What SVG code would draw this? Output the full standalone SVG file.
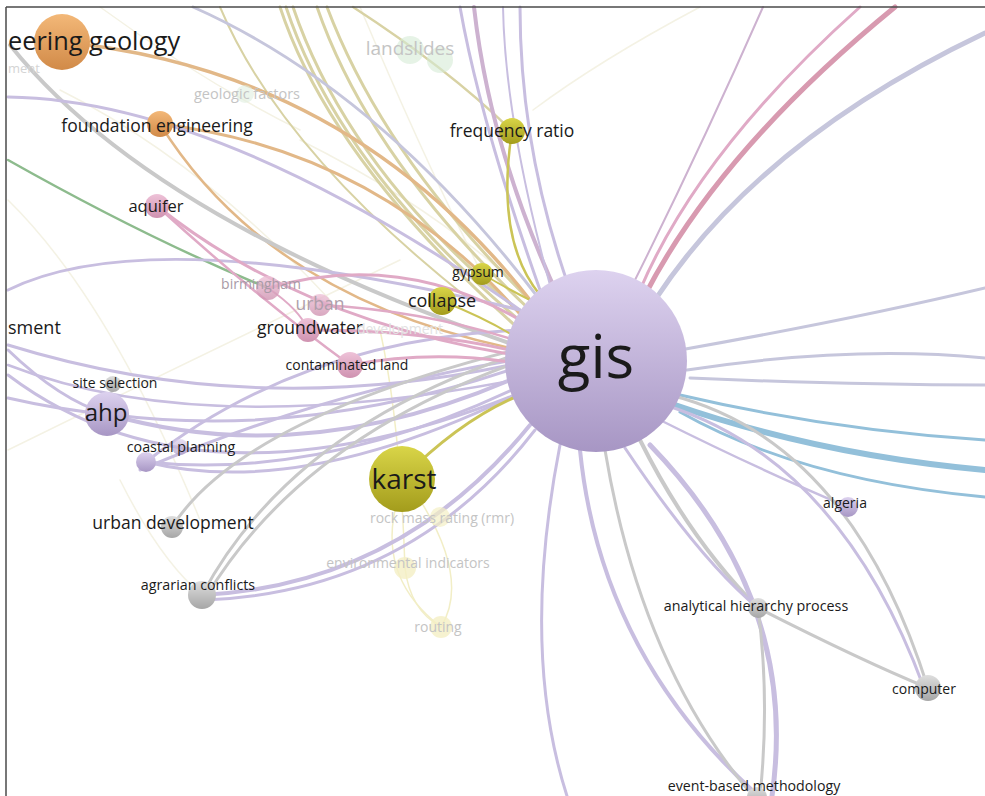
<svg xmlns="http://www.w3.org/2000/svg" width="985" height="796" viewBox="0 0 985 796">
<defs>
<linearGradient id="gPurple" x1="0" y1="0" x2="0" y2="1"><stop offset="0" stop-color="#ddd2ef"/><stop offset="1" stop-color="#a796c4"/></linearGradient>
<linearGradient id="gOlive" x1="0" y1="0" x2="0" y2="1"><stop offset="0" stop-color="#d9d548"/><stop offset="1" stop-color="#a39c1c"/></linearGradient>
<linearGradient id="gOrange" x1="0" y1="0" x2="0" y2="1"><stop offset="0" stop-color="#f3b878"/><stop offset="1" stop-color="#d18a48"/></linearGradient>
<linearGradient id="gPink" x1="0" y1="0" x2="0" y2="1"><stop offset="0" stop-color="#eec2d8"/><stop offset="1" stop-color="#cf92b0"/></linearGradient>
<linearGradient id="gGray" x1="0" y1="0" x2="0" y2="1"><stop offset="0" stop-color="#dedede"/><stop offset="1" stop-color="#a6a6a6"/></linearGradient>
<style>
.e{fill:none;stroke-linecap:round}
.lav{stroke:#c8bee0}
.stl{stroke:#c6c6dc}
.mauve{stroke:#cdb2d0}
.pinkE{stroke:#e0aac6}
.rose{stroke:#d89ab0}
.blue{stroke:#93c0da}
.grayE{stroke:#c9c9c9}
.tan{stroke:#d8d2a4}
.olv{stroke:#cbc456}
.org{stroke:#e2b888}
.grn{stroke:#8dbb8d}
.faint{stroke:#f4f2e4}
.fy{stroke:#f2eec6}
text{font-family:"Open Sans","Noto Sans","DejaVu Sans",sans-serif;fill:#1a1a1a}
.fl{fill:#c4c4c4}
</style>
</defs>
<rect width="985" height="796" fill="#ffffff"/>

<g id="connectors">
<!-- faint background -->
<path class="e faint" stroke-width="1.5" d="M700,7 Q600,60 533,110"/>
<path class="e faint" stroke-width="1.5" d="M8,200 Q110,300 200,520"/>
<path class="e faint" stroke-width="1.5" d="M300,140 Q420,200 500,270"/>
<path class="e faint" stroke-width="1.5" d="M60,90 Q200,160 330,300"/>
<path class="e faint" stroke-width="1.5" d="M120,480 Q160,560 202,595"/>
<path class="e faint" stroke-width="1.5" d="M100,7 Q200,80 300,130"/>
<path class="e faint" stroke-width="1.5" d="M8,450 Q150,380 400,260"/>
<path class="e faint" stroke-width="1.5" d="M360,7 Q420,150 480,270"/>
<path class="e fy" stroke-width="1.5" d="M395,510 Q380,580 441,627"/>
<path class="e fy" stroke-width="1.5" d="M420,500 Q470,580 441,627"/>
<path class="e fy" stroke-width="1.5" d="M405,568 Q410,610 441,627"/>
<path class="e fy" stroke-width="1.5" d="M380,330 Q400,420 405,568"/>
<!-- tan from top -->
<path class="e tan" stroke-width="2" d="M220,7 Q280,150 470,300"/>
<path class="e tan" stroke-width="3" d="M280,7 Q330,160 520,330"/>
<path class="e tan" stroke-width="3" d="M286,7 Q340,170 525,325"/>
<path class="e tan" stroke-width="3" d="M293,7 Q350,175 530,320"/>
<path class="e tan" stroke-width="3" d="M317,7 Q370,160 530,310"/>
<path class="e tan" stroke-width="3" d="M327,7 Q385,160 535,305"/>
<path class="e tan" stroke-width="2.5" d="M353,7 Q450,70 512,131"/>
<!-- orange -->
<path class="e org" stroke-width="3.5" d="M62,42 Q350,70 530,300"/>
<path class="e org" stroke-width="3" d="M160,124 Q380,150 525,320"/>
<path class="e org" stroke-width="2.5" d="M160,124 Q270,300 520,350"/>
<!-- green -->
<path class="e grn" stroke-width="2.5" d="M8,160 Q150,240 268,288"/>
<!-- gray top-left -->
<path class="e grayE" stroke-width="4" d="M10,45 Q150,220 515,345"/>
<!-- lavender/steel -->
<path class="e stl" stroke-width="3" d="M193,7 Q380,90 540,300"/>
<path class="e lav" stroke-width="3" d="M8,97 Q220,100 520,310"/>
<path class="e lav" stroke-width="3" d="M8,290 Q150,220 520,310"/>
<path class="e lav" stroke-width="3" d="M8,345 Q250,420 510,365"/>
<path class="e lav" stroke-width="2.5" d="M8,365 Q200,440 515,380"/>
<path class="e lav" stroke-width="3" d="M8,350 Q60,400 107,414"/>
<path class="e lav" stroke-width="3" d="M8,398 Q60,410 107,414"/>
<path class="e lav" stroke-width="3" d="M8,375 Q200,520 515,395"/>
<path class="e lav" stroke-width="4" d="M107,414 Q300,470 510,380"/>
<path class="e lav" stroke-width="3" d="M107,414 Q300,440 510,370"/>
<path class="e lav" stroke-width="3" d="M146,462 Q300,500 515,395"/>
<path class="e lav" stroke-width="3" d="M146,462 Q320,480 512,390"/>
<path class="e lav" stroke-width="3" d="M146,462 Q300,340 520,330"/>
<path class="e lav" stroke-width="3" d="M140,470 Q330,390 515,360"/>
<path class="e lav" stroke-width="4" d="M202,595 Q400,585 530,425"/>
<path class="e lav" stroke-width="3" d="M205,600 Q410,592 535,430"/>
<path class="e grayE" stroke-width="3" d="M172,527 Q240,420 515,350"/>
<path class="e grayE" stroke-width="3" d="M202,595 Q290,430 515,355"/>
<path class="e grayE" stroke-width="3" d="M206,597 Q300,440 518,362"/>
<path class="e grayE" stroke-width="2" d="M113,384 Q110,400 107,414"/>
<!-- top purple -->
<path class="e lav" stroke-width="3" d="M460,7 Q480,120 540,290"/>
<path class="e mauve" stroke-width="4" d="M474,7 Q490,150 560,300"/>
<path class="e lav" stroke-width="2" d="M503,7 Q505,120 550,285"/>
<path class="e lav" stroke-width="3" d="M520,7 Q520,150 570,290"/>
<path class="e mauve" stroke-width="2" d="M763,7 Q700,150 630,290"/>
<path class="e pinkE" stroke-width="3" d="M860,7 Q700,150 640,290"/>
<path class="e rose" stroke-width="5" d="M895,7 Q720,150 645,295"/>
<path class="e stl" stroke-width="5" d="M985,33 Q760,140 655,300"/>
<!-- right -->
<path class="e stl" stroke-width="3" d="M680,350 Q850,320 985,288"/>
<path class="e stl" stroke-width="3" d="M687,370 Q850,345 985,358"/>
<path class="e stl" stroke-width="3" d="M690,378 Q850,385 985,385"/>
<path class="e blue" stroke-width="3" d="M680,395 Q830,430 985,440"/>
<path class="e blue" stroke-width="6" d="M675,405 Q820,455 985,470"/>
<path class="e blue" stroke-width="3" d="M680,412 Q800,480 985,497"/>
<path class="e lav" stroke-width="2.5" d="M660,420 Q760,470 848,507"/>
<path class="e grayE" stroke-width="3" d="M670,395 Q850,440 928,688"/>
<path class="e lav" stroke-width="3" d="M665,405 Q840,460 924,688"/>
<!-- bottom -->
<path class="e lav" stroke-width="3" d="M560,445 Q520,650 567,796"/>
<path class="e lav" stroke-width="4" d="M580,450 Q600,650 752,790"/>
<path class="e grayE" stroke-width="3" d="M605,450 Q640,660 748,790"/>
<path class="e grayE" stroke-width="4" d="M640,440 Q690,540 758,608"/>
<path class="e lav" stroke-width="3" d="M625,448 Q700,560 758,608"/>
<path class="e lav" stroke-width="5" d="M650,445 Q800,600 772,796"/>
<path class="e grayE" stroke-width="3" d="M758,608 Q770,700 760,796"/>
<path class="e grayE" stroke-width="3" d="M758,608 Q860,660 928,688"/>
<!-- pink -->
<path class="e pinkE" stroke-width="3" d="M157,206 Q300,320 515,355"/>
<path class="e pinkE" stroke-width="2.5" d="M157,206 Q260,300 350,365"/>
<path class="e pinkE" stroke-width="3" d="M268,288 Q400,250 520,320"/>
<path class="e pinkE" stroke-width="3" d="M308,330 Q420,330 510,350"/>
<path class="e pinkE" stroke-width="3" d="M350,365 Q430,350 510,362"/>
<path class="e pinkE" stroke-width="2.5" d="M320,305 Q420,310 515,340"/>
<path class="e pinkE" stroke-width="2" d="M268,288 Q300,310 308,330"/>
<!-- olive -->
<path class="e olv" stroke-width="3" d="M402,479 Q460,420 520,395"/>
<path class="e olv" stroke-width="2" d="M442,301 Q490,320 520,340"/>
<path class="e olv" stroke-width="2" d="M482,274 Q510,290 530,300"/>
<path class="e olv" stroke-width="2.5" d="M512,131 Q495,240 540,295"/>
</g>

<g id="node-gis"><circle cx="596" cy="361" r="91" fill="url(#gPurple)"/><text x="596" y="378" font-size="60" text-anchor="middle">gis</text></g>
<g id="node-landslides"><circle cx="410" cy="50" r="14" fill="#d6ebd6" opacity="0.6"/><circle cx="440" cy="60" r="13" fill="#d6ebd6" opacity="0.6"/><text x="410" y="55" font-size="19" text-anchor="middle" class="fl">landslides</text></g>
<g id="node-geologic-factors"><circle cx="245" cy="94" r="9" fill="#e0eee0" opacity="0.6"/><text x="247" y="99" font-size="14.5" text-anchor="middle" class="fl">geologic factors</text></g>
<g id="node-engineering-geology"><circle cx="62" cy="42" r="28" fill="url(#gOrange)"/><text x="8" y="50" font-size="25.3">eering geology</text></g>
<g id="node-ment"><text x="8" y="73" font-size="13" style="fill:#d4d4d4">ment</text></g>
<g id="node-foundation-engineering"><circle cx="160" cy="124" r="13" fill="url(#gOrange)"/><text x="157" y="132" font-size="17.5" text-anchor="middle">foundation engineering</text></g>
<g id="node-frequency-ratio"><circle cx="512" cy="131" r="13" fill="url(#gOlive)"/><text x="512" y="137" font-size="17.5" text-anchor="middle">frequency ratio</text></g>
<g id="node-aquifer"><circle cx="157" cy="206" r="12" fill="url(#gPink)"/><text x="156" y="212" font-size="16.5" text-anchor="middle">aquifer</text></g>
<g id="node-gypsum"><circle cx="482" cy="274" r="11" fill="url(#gOlive)"/><text x="478" y="277" font-size="14" text-anchor="middle">gypsum</text></g>
<g id="node-collapse"><circle cx="442" cy="301" r="14" fill="url(#gOlive)"/><text x="442" y="307" font-size="18" text-anchor="middle">collapse</text></g>
<g id="node-birmingham"><circle cx="268" cy="288" r="12" fill="url(#gPink)" opacity="0.8"/><text x="261" y="289" font-size="14" text-anchor="middle" style="fill:#a89aa6">birmingham</text></g>
<g id="node-urban"><circle cx="320" cy="305" r="11" fill="url(#gPink)" opacity="0.8"/><text x="320" y="310" font-size="17.5" text-anchor="middle" style="fill:#ae9eaa">urban</text></g>
<g id="node-groundwater"><circle cx="308" cy="330" r="12" fill="url(#gPink)"/><text x="310" y="334" font-size="17.5" text-anchor="middle">groundwater</text></g>
<g id="node-development"><text x="400" y="334" font-size="14" text-anchor="middle" style="fill:#e2e2e2">development</text></g>
<g id="node-contaminated-land"><circle cx="350" cy="365" r="13" fill="url(#gPink)"/><text x="347" y="370" font-size="14" text-anchor="middle">contaminated land</text></g>
<g id="node-sment"><text x="8" y="334" font-size="18">sment</text></g>
<g id="node-site-selection"><circle cx="113" cy="384" r="8" fill="url(#gGray)"/><text x="115" y="388" font-size="14" text-anchor="middle">site selection</text></g>
<g id="node-ahp"><circle cx="107" cy="414" r="22" fill="url(#gPurple)"/><text x="106" y="421" font-size="24" text-anchor="middle">ahp</text></g>
<g id="node-coastal-planning"><circle cx="180" cy="447" r="8" fill="url(#gPurple)" opacity="0.7"/><circle cx="146" cy="462" r="10" fill="url(#gPurple)"/><text x="181" y="452" font-size="14.3" text-anchor="middle">coastal planning</text></g>
<g id="node-karst"><circle cx="402" cy="479" r="33" fill="url(#gOlive)"/><text x="404" y="489" font-size="28" text-anchor="middle">karst</text></g>
<g id="node-urban-development"><circle cx="172" cy="527" r="11" fill="url(#gGray)"/><text x="173" y="529" font-size="17.5" text-anchor="middle">urban development</text></g>
<g id="node-rock-mass-rating"><circle cx="440" cy="517" r="10" fill="#f4efc4" opacity="0.7"/><text x="442" y="523" font-size="14" text-anchor="middle" class="fl">rock mass rating (rmr)</text></g>
<g id="node-environmental-indicators"><circle cx="405" cy="568" r="11" fill="#f4efc4" opacity="0.8"/><text x="408" y="568" font-size="14" text-anchor="middle" class="fl">environmental indicators</text></g>
<g id="node-agrarian-conflicts"><circle cx="202" cy="595" r="14" fill="url(#gGray)"/><text x="198" y="590" font-size="14.3" text-anchor="middle">agrarian conflicts</text></g>
<g id="node-routing"><circle cx="441" cy="627" r="11" fill="#f4efc4" opacity="0.8"/><text x="438" y="632" font-size="14" text-anchor="middle" class="fl">routing</text></g>
<g id="node-algeria"><circle cx="848" cy="507" r="10" fill="url(#gPurple)"/><text x="845" y="508" font-size="14" text-anchor="middle">algeria</text></g>
<g id="node-analytical-hierarchy-process"><circle cx="758" cy="608" r="10" fill="url(#gGray)"/><text x="756" y="611" font-size="14.3" text-anchor="middle">analytical hierarchy process</text></g>
<g id="node-computer"><circle cx="928" cy="688" r="13" fill="url(#gGray)"/><text x="924" y="694" font-size="14" text-anchor="middle">computer</text></g>
<g id="node-event-based-methodology"><circle cx="757" cy="797" r="10" fill="url(#gGray)"/><text x="754" y="791" font-size="14.2" text-anchor="middle">event-based methodology</text></g>

<g id="frame">
<line x1="6" y1="7" x2="985" y2="7" stroke="#4a4a4a" stroke-width="1.5"/>
<line x1="6" y1="7" x2="6" y2="796" stroke="#4a4a4a" stroke-width="1.5"/>
</g>
</svg>
